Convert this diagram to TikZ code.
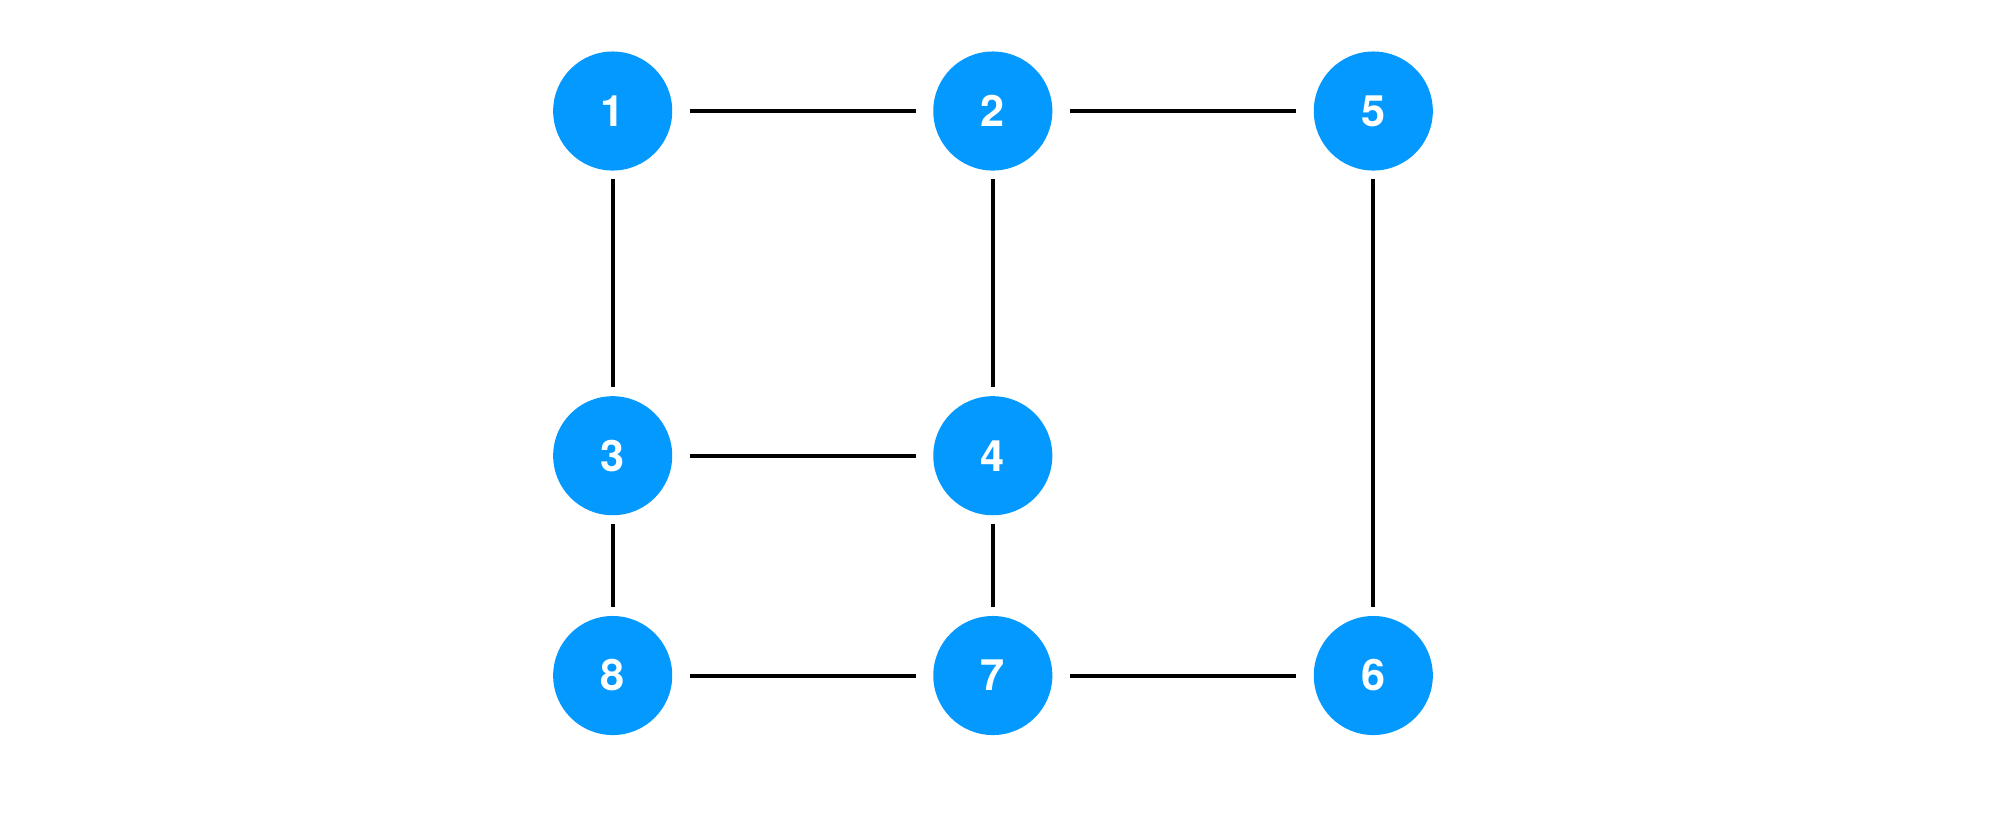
\documentclass[tikz,border=0pt]{standalone}
\usepackage{fontspec}
\setmainfont{TeX Gyre Heros}
\definecolor{nodeblue}{RGB}{4,153,255}
\tikzset{
  vtx/.style={circle, fill=nodeblue, draw=none, minimum size=1.19cm, inner sep=0pt,
    text=white, font=\fontsize{12.3}{14}\selectfont\bfseries},
  hlink/.style={line width=1.14pt, shorten <=0.17cm, shorten >=0.17cm},
  vlink/.style={line width=1.14pt, shorten <=0.08cm, shorten >=0.08cm}
}
\begin{document}
\begin{tikzpicture}[x=0.01cm, y=-0.01cm]
  \useasboundingbox (0,0) rectangle (1990,838);
  \node[vtx] (n1) at (612.7,111) {1};
  \node[vtx] (n2) at (992.8,111) {2};
  \node[vtx] (n5) at (1373.3,111) {5};
  \node[vtx] (n3) at (612.7,455.7) {3};
  \node[vtx] (n4) at (992.8,455.7) {4};
  \node[vtx] (n8) at (612.7,675.5) {8};
  \node[vtx] (n7) at (992.8,675.5) {7};
  \node[vtx] (n6) at (1373.3,675.5) {6};
  \draw[hlink] (n1) -- (n2);
  \draw[hlink] (n2) -- (n5);
  \draw[hlink] (n3) -- (n4);
  \draw[hlink] (n8) -- (n7);
  \draw[hlink] (n7) -- (n6);
  \draw[vlink] (n1) -- (n3);
  \draw[vlink] (n3) -- (n8);
  \draw[vlink] (n2) -- (n4);
  \draw[vlink] (n4) -- (n7);
  \draw[vlink] (n5) -- (n6);
\end{tikzpicture}
\end{document}
